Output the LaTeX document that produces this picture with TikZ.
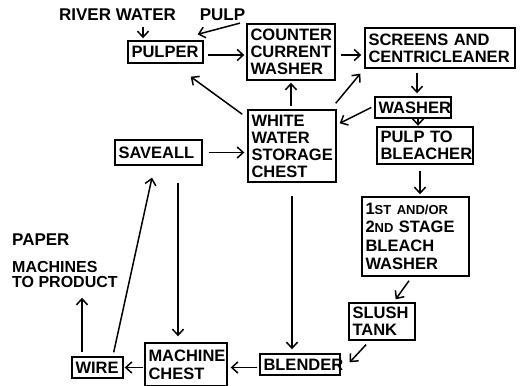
\documentclass[tikz,border=0pt]{standalone}
\usepackage{fontspec}
\setmainfont{Liberation Sans}
\usetikzlibrary{arrows.meta,calc}
\tikzset{
  box/.style={draw, line width=1.4pt, inner xsep=3.5pt, inner ysep=0pt, align=left,
    font=\fontsize{16.5}{17}\selectfont\bfseries},
  lbl/.style={inner sep=0pt, font=\fontsize{17}{17}\selectfont\bfseries},
  arr/.style={line width=1.5pt, -{Straight Barb[length=6pt,width=11pt,line width=1.5pt]}},
}
\begin{document}
\begin{tikzpicture}[x=1pt,y=1pt]
\useasboundingbox (0,0) rectangle (524,385);
% boxes
\node[box, text width=68pt, minimum height=22pt] (pulper) at (165.5,333) {PULPER};
\node[box, text width=81pt, minimum height=56pt] (ccw) at (291,333) {COUNTER\\CURRENT\\WASHER};
\node[box, text width=143pt, minimum height=40pt] (screens) at (440,337) {SCREENS AND\\CENTRICLEANER};
\node[box, text width=69pt, minimum height=21pt] (washer) at (413,277.5) {WASHER};
\node[box, text width=89pt, minimum height=37pt] (ptb) at (425,239.5) {PULP TO\\BLEACHER};
\node[box, text width=81pt, minimum height=72pt] (wwsc) at (292,239) {WHITE\\WATER\\STORAGE\\CHEST};
\node[box, text width=80pt, minimum height=25pt] (saveall) at (158.5,232.5) {SAVEALL};
\node[box, text width=100pt, minimum height=79pt, font=\fontsize{16.5}{18.5}\selectfont\bfseries] (bleach) at (415.5,148.5)
  {1{\fontsize{13}{13}\selectfont ST AND/OR}\\2{\fontsize{13}{13}\selectfont ND} STAGE\\BLEACH\\WASHER};
\node[box, text width=59pt, minimum height=37pt] (slush) at (382,63.5) {SLUSH\\TANK};
\node[box, text width=73pt, minimum height=21pt] (blender) at (300,20.5) {BLENDER};
\node[box, text width=75pt, minimum height=43pt, font=\fontsize{16.5}{18}\selectfont\bfseries] (mchest) at (186,20.5) {MACHINE\\CHEST};
\node[box, text width=44pt, minimum height=21pt] (wire) at (97.5,17.5) {WIRE};
% labels
\node[lbl] (rw) at (117.5,370) {RIVER WATER};
\node[lbl] (pulp) at (222.5,370) {PULP};
\node[lbl, anchor=west] (paper) at (12,145) {PAPER};
\node[lbl, anchor=north west, align=left, font=\fontsize{16}{14.5}\selectfont\bfseries] (product) at (12,123.5) {MACHINES\\TO PRODUCT};
% connectors
\draw[arr, shorten <=6pt, shorten >=2pt] ([xshift=25.5pt]rw.south) -- ([xshift=-22.5pt]pulper.north);
\draw[arr] ([xshift=17.5pt,yshift=-2pt]pulp.south) -- ([xshift=-6pt,yshift=6pt]pulper.north east);
\draw[arr, shorten <=4pt, shorten >=2pt] ([yshift=-3pt]pulper.east) -- ([yshift=-3pt]pulper.east -| ccw.west);
\draw[arr] ([xshift=-5pt,yshift=-5pt]wwsc.north west) -- ([xshift=-13pt,yshift=-13pt]pulper.south east);
\draw[arr, shorten <=6pt, shorten >=3pt] (saveall.east) -- (saveall.east -| wwsc.west);
\draw[arr, shorten <=3pt, shorten >=2pt] (wwsc.north -| ccw.south) -- (ccw.south);
\draw[arr, shorten <=5pt, shorten >=3pt] ([yshift=-3pt]ccw.east) -- ([yshift=-3pt]ccw.east -| screens.west);
\draw[arr] ([xshift=-1pt,yshift=6pt]wwsc.north east) -- ([xshift=-4pt,yshift=-5pt]screens.south west);
\draw[arr, shorten <=4pt, shorten >=3pt] ([xshift=4pt]washer.north |- screens.south) -- ([xshift=4pt]washer.north);
\draw[arr] ([xshift=-3pt]washer.west) -- ([xshift=3pt,yshift=-14pt]wwsc.north east);
\draw[arr, shorten >=0.5pt] ([xshift=5pt]washer.south) -- ([xshift=5pt]washer.south |- ptb.north);
\draw[arr, shorten <=6pt, shorten >=2pt] ([xshift=-5pt]ptb.south) -- ([xshift=-5pt]ptb.south |- bleach.north);
\draw[arr] ([xshift=-6.5pt,yshift=-4pt]bleach.south) -- ([xshift=-20pt,yshift=3pt]slush.north east);
\draw[arr] ([xshift=-16pt,yshift=-4pt]slush.south) -- ([xshift=9pt,yshift=-9pt]blender.north east);
\draw[arr, shorten <=13pt, shorten >=4pt] (wwsc.south) -- (wwsc.south |- blender.north);
\draw[arr, shorten <=2pt, shorten >=3pt] ([yshift=-3pt]blender.west) -- ([yshift=-3pt]blender.west -| mchest.east);
\draw[arr, shorten <=1pt, shorten >=1pt] (mchest.west |- wire.east) -- (wire.east);
\draw[arr, shorten <=4pt, shorten >=10pt] ([xshift=-15.5pt]wire.north) -- ([xshift=-15.5pt]wire.north |- product.south);
\draw[arr] ([xshift=-10pt,yshift=4pt]wire.north east) -- ([xshift=-6.5pt,yshift=-12pt]saveall.south);
\draw[arr, shorten <=17pt, shorten >=6pt] ([xshift=19.5pt]saveall.south) -- ([xshift=19.5pt]saveall.south |- mchest.north);
\end{tikzpicture}
\end{document}
